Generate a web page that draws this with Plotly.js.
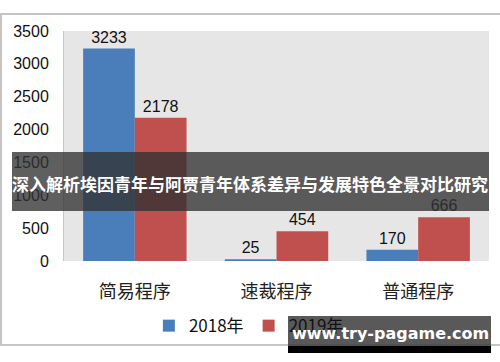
<!DOCTYPE html>
<html><head><meta charset="utf-8">
<script src="https://cdn.plot.ly/plotly-3.0.1.min.js"></script>
<style>html,body{margin:0;padding:0;background:#fff;}#c{width:500px;height:362px;}</style>
</head><body><div id="c"></div>
<script>
const categories = ["简易程序", "速裁程序", "普通程序"];
const series2018 = [3233, 25, 170];
const series2019 = [2178, 454, 666];
const seriesNames = ["2018年", "2019年"];
const yTicks = [0, 500, 1000, 1500, 2000, 2500, 3000, 3500];
const titleText = "深入解析埃因青年与阿贾青年体系差异与发展特色全景对比研究";
const watermark = "www.try-pagame.com";

const numFont = "Liberation Sans, Open Sans, sans-serif";
const cjkFont = "Noto Sans CJK SC, sans-serif";

const traces = [
  {type:"bar", name:seriesNames[0], x:categories, y:series2018, marker:{color:"#4a7ebb"},
   text:series2018.map(String), textposition:"outside", cliponaxis:false,
   textfont:{family:numFont, size:16, color:"#111"}},
  {type:"bar", name:seriesNames[1], x:categories, y:series2019, marker:{color:"#c0504d"},
   text:series2019.map(String), textposition:"outside", cliponaxis:false,
   textfont:{family:numFont, size:16, color:"#111"}}
];

const layout = {
  width:500, height:362,
  margin:{l:64, r:11, t:31, b:101},
  paper_bgcolor:"#ffffff", plot_bgcolor:"#e6e6e6",
  barmode:"group", bargap:0.27, bargroupgap:0,
  showlegend:true,
  legend:{orientation:"h", x:0.435, xanchor:"center", y:-0.283, yanchor:"middle",
    bgcolor:"rgba(0,0,0,0)",
    font:{family:cjkFont, size:17, color:"#111"}, itemwidth:30, traceorder:"normal"},
  xaxis:{tickfont:{family:cjkFont, size:18, color:"#222"}, ticks:"", ticklabelstandoff:18,
    showline:false, showgrid:false, zeroline:false, fixedrange:true},
  yaxis:{range:[0,3500], tickvals:yTicks, ticktext:yTicks.map(String),
    tickfont:{family:numFont, size:16, color:"#111"}, ticks:"", ticklabelstandoff:11,
    showgrid:false, zeroline:false, showline:true, linecolor:"#c8c8c8", linewidth:1, fixedrange:true},
  shapes:[
    {type:"rect", xref:"paper", yref:"paper", x0:-63/425, x1:488/425, y0:(261-345)/230, y1:(261-14)/230,
     line:{color:"#c4c4c4", width:2}, fillcolor:"rgba(0,0,0,0)", layer:"below"},
    {type:"rect", xref:"paper", yref:"paper", x0:(12-64)/425, x1:1, y0:(261-211)/230, y1:(261-152)/230,
     line:{width:0}, fillcolor:"rgba(50,50,50,0.78)", layer:"above"},
    {type:"rect", xref:"paper", yref:"paper", x0:(288-64)/425, x1:(491-64)/425, y0:(261-353)/230, y1:(261-316)/230,
     line:{width:0}, fillcolor:"rgba(60,60,60,0.85)", layer:"above"},
    {type:"rect", xref:"paper", yref:"paper", x0:(288-64)/425, x1:(491-64)/425, y0:(261-353)/230, y1:(261-346)/230,
     line:{width:0}, fillcolor:"#000000", layer:"above"}
  ],
  annotations:[
    {xref:"paper", yref:"paper", x:(250-64)/425, y:(261-184)/230, text:"<b>"+titleText+"</b>", showarrow:false,
     xanchor:"center", yanchor:"middle", font:{family:cjkFont, size:17, color:"#ffffff"}},
    {xref:"paper", yref:"paper", x:(390-64)/425, y:(261-333)/230, text:"<b>"+watermark+"</b>", showarrow:false,
     xanchor:"center", yanchor:"middle", font:{family:"DejaVu Sans, sans-serif", size:16, color:"#ffffff"}}
  ]
};

Plotly.newPlot("c", traces, layout, {displayModeBar:false, staticPlot:true});
</script></body></html>
